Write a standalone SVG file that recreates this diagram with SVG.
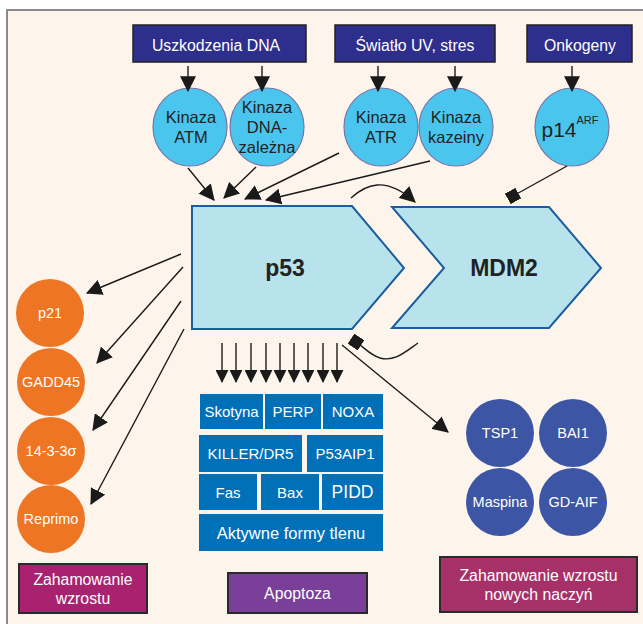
<svg xmlns="http://www.w3.org/2000/svg" width="643" height="624" viewBox="0 0 643 624">
<defs>
<marker id="ah" markerUnits="userSpaceOnUse" markerWidth="16" markerHeight="16" viewBox="0 0 14 14" refX="13" refY="7" orient="auto">
<path d="M0,0 L14,7 L0,14 Z" fill="#1a1a1a"/>
</marker>
<marker id="ahs" markerUnits="userSpaceOnUse" markerWidth="13" markerHeight="13" viewBox="0 0 14 14" refX="13" refY="7" orient="auto">
<path d="M0,0 L14,7 L0,14 Z" fill="#1a1a1a"/>
</marker>
<marker id="sq" markerUnits="userSpaceOnUse" markerWidth="12" markerHeight="12" viewBox="0 0 10 10" refX="5" refY="5" orient="auto">
<rect x="0" y="0" width="10" height="10" fill="#1a1a1a"/>
</marker>
</defs>
<style>
text{font-family:"Liberation Sans",Arial,sans-serif;text-anchor:middle;dominant-baseline:central}
.src rect{fill:#2e2e8c;stroke:#222;stroke-width:1.5}
.src text{fill:#fff;font-size:15.8px}
.kin ellipse{fill:#4ac6ee;stroke:#7a74a8;stroke-width:1.2}
.kin text{fill:#222;font-size:16.5px}
.big polygon{fill:#b9e3ec;stroke:#1a5ea0;stroke-width:2}
.big text{fill:#222;font-size:23px;font-weight:bold}
.or circle{fill:#ee7523}
.or text{fill:#fff;font-size:14.5px}
.ap rect{fill:#0070b8}
.ap text{fill:#fff;font-size:15px}
.an circle{fill:#3c55a5}
.an text{fill:#fff;font-size:14.5px}
.out rect{stroke:#2a2a2a;stroke-width:2}
.out text{fill:#fff;font-size:15.8px}
.c line,.c path{stroke:#1a1a1a;stroke-width:1.4;fill:none}
</style>
<rect x="0" y="0" width="643" height="624" fill="#ffffff"/>
<rect x="7" y="10" width="640" height="620" fill="#fdf5eb"/>
<path d="M7,624 L7,10 L643,10" fill="none" stroke="#8a8a8a" stroke-width="2"/>

<g id="src-dna" class="src"><rect x="133" y="25" width="173" height="37"/><text x="216" y="45">Uszkodzenia DNA</text></g>
<g id="src-uv" class="src"><rect x="335" y="25" width="160" height="37"/><text x="415" y="45">Światło UV, stres</text></g>
<g id="src-onk" class="src"><rect x="527" y="25" width="105" height="37"/><text x="580" y="45">Onkogeny</text></g>

<g id="k-atm" class="kin"><ellipse cx="190" cy="127" rx="37" ry="39"/><text x="191" y="117">Kinaza</text><text x="191" y="137">ATM</text></g>
<g id="k-dna" class="kin"><ellipse cx="267" cy="127" rx="37" ry="39"/><text x="267" y="107">Kinaza</text><text x="267" y="127">DNA-</text><text x="267" y="147">zależna</text></g>
<g id="k-atr" class="kin"><ellipse cx="381" cy="127" rx="37" ry="39"/><text x="381" y="117">Kinaza</text><text x="381" y="137">ATR</text></g>
<g id="k-kaz" class="kin"><ellipse cx="456" cy="127" rx="37" ry="39"/><text x="456" y="117">Kinaza</text><text x="456" y="137">kazeiny</text></g>
<g id="k-p14" class="kin"><ellipse cx="572" cy="127" rx="37" ry="39"/><text x="570" y="129" style="font-size:21px">p14<tspan dy="-9" style="font-size:11px">ARF</tspan></text></g>

<g id="p53" class="big"><polygon points="192,206 352,206 404,268 352,329 192,329"/><text x="285" y="268">p53</text></g>
<g id="mdm2" class="big"><polygon points="392,207 549,207 601,268 549,328 392,328 444,268"/><text x="504" y="268">MDM2</text></g>

<g id="o-p21" class="or"><circle cx="50" cy="313" r="34"/><text x="50" y="313">p21</text></g>
<g id="o-gadd" class="or"><circle cx="51" cy="382" r="34"/><text x="51" y="382">GADD45</text></g>
<g id="o-1433" class="or"><circle cx="51" cy="451" r="34"/><text x="51" y="451">14-3-3σ</text></g>
<g id="o-repr" class="or"><circle cx="51" cy="519" r="34"/><text x="51" y="519">Reprimo</text></g>

<g id="apoptosis-factors" class="ap">
<g id="a-skot"><rect x="200" y="394" width="63" height="35"/><text x="231.5" y="411.5">Skotyna</text></g>
<g id="a-perp"><rect x="265" y="394" width="56" height="35"/><text x="293" y="411.5">PERP</text></g>
<g id="a-noxa"><rect x="323" y="394" width="60" height="35"/><text x="353" y="411.5">NOXA</text></g>
<g id="a-killer"><rect x="199" y="435" width="103" height="37"/><text x="250.5" y="453.5">KILLER/DR5</text></g>
<g id="a-p53aip"><rect x="307" y="435" width="76" height="37"/><text x="345" y="453.5">P53AIP1</text></g>
<g id="a-fas"><rect x="199" y="474" width="58" height="36"/><text x="228" y="492">Fas</text></g>
<g id="a-bax"><rect x="261" y="474" width="58" height="36"/><text x="290" y="492">Bax</text></g>
<g id="a-pidd"><rect x="322" y="474" width="61" height="36"/><text x="352.5" y="492" style="font-size:17.5px">PIDD</text></g>
<g id="a-ros"><rect x="199" y="514" width="184" height="37"/><text x="291" y="532.5" style="font-size:16.5px">Aktywne formy tlenu</text></g>
</g>

<g id="n-tsp1" class="an"><circle cx="500" cy="433" r="34"/><text x="500" y="433">TSP1</text></g>
<g id="n-bai1" class="an"><circle cx="573" cy="433" r="34"/><text x="573" y="433">BAI1</text></g>
<g id="n-masp" class="an"><circle cx="500" cy="502" r="34"/><text x="500" y="502">Maspina</text></g>
<g id="n-gdaif" class="an"><circle cx="573" cy="502" r="34"/><text x="573" y="502">GD-AIF</text></g>

<g id="out-growth" class="out"><rect x="19" y="564" width="128" height="49" fill="#a8226f"/><text x="83" y="579">Zahamowanie</text><text x="83" y="598">wzrostu</text></g>
<g id="out-apop" class="out"><rect x="228" y="573" width="139" height="40" fill="#7a3f98"/><text x="297.5" y="593">Apoptoza</text></g>
<g id="out-angio" class="out"><rect x="440" y="557" width="197" height="55" fill="#a63068"/><text x="538.5" y="575">Zahamowanie wzrostu</text><text x="538.5" y="594">nowych naczyń</text></g>

<g id="connectors" class="c">
<line x1="188" y1="66" x2="188" y2="91" marker-end="url(#ah)"/>
<line x1="262" y1="66" x2="262" y2="91" marker-end="url(#ah)"/>
<line x1="378" y1="66" x2="378" y2="91" marker-end="url(#ah)"/>
<line x1="455" y1="66" x2="455" y2="91" marker-end="url(#ah)"/>
<line x1="572" y1="66" x2="572" y2="91" marker-end="url(#ah)"/>
<line x1="188" y1="168" x2="214" y2="200" marker-end="url(#ah)"/>
<line x1="256" y1="167" x2="224" y2="198" marker-end="url(#ah)"/>
<line x1="339" y1="153" x2="245" y2="199" marker-end="url(#ah)"/>
<line x1="430" y1="161" x2="266" y2="200" marker-end="url(#ah)"/>
<path d="M351,198 C365,185 385,175 415,202" marker-end="url(#ah)"/>
<line x1="567" y1="166" x2="513" y2="196" marker-end="url(#sq)"/>
<path d="M418,343 C405,352 395,362 380,358 C370,355 365,348 356,342" marker-end="url(#sq)"/>
<line x1="342" y1="345" x2="448" y2="432" marker-end="url(#ah)"/>
<line x1="181" y1="254" x2="87" y2="293" marker-end="url(#ah)"/>
<line x1="183" y1="267" x2="97" y2="363" marker-end="url(#ah)"/>
<line x1="181" y1="301" x2="93" y2="430" marker-end="url(#ah)"/>
<line x1="184" y1="329" x2="91" y2="504" marker-end="url(#ah)"/>
<line x1="222" y1="343" x2="222" y2="382" marker-end="url(#ahs)"/>
<line x1="236" y1="343" x2="236" y2="382" marker-end="url(#ahs)"/>
<line x1="251" y1="343" x2="251" y2="382" marker-end="url(#ahs)"/>
<line x1="266" y1="343" x2="266" y2="382" marker-end="url(#ahs)"/>
<line x1="280" y1="343" x2="280" y2="382" marker-end="url(#ahs)"/>
<line x1="294" y1="343" x2="294" y2="382" marker-end="url(#ahs)"/>
<line x1="308" y1="343" x2="308" y2="382" marker-end="url(#ahs)"/>
<line x1="323" y1="343" x2="323" y2="382" marker-end="url(#ahs)"/>
<line x1="337" y1="343" x2="337" y2="382" marker-end="url(#ahs)"/>
</g>
</svg>
